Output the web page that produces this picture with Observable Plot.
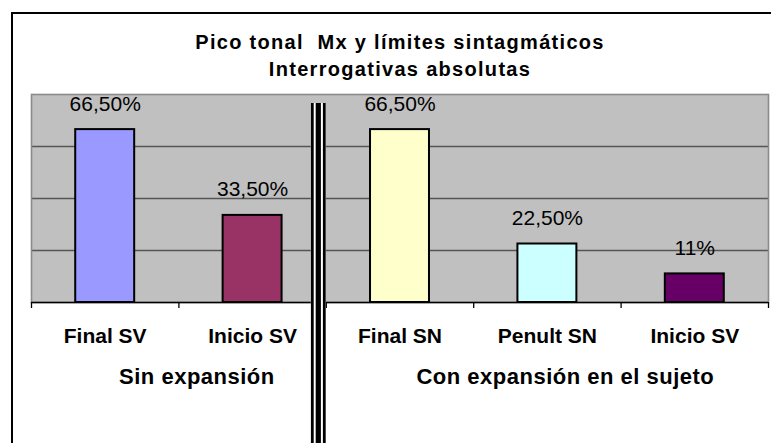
<!DOCTYPE html>
<html>
<head>
<meta charset="utf-8">
<script src="https://cdn.jsdelivr.net/npm/d3@7"></script>
<script src="https://cdn.jsdelivr.net/npm/@observablehq/plot@0.6"></script>
<style>
  html, body { margin: 0; padding: 0; background: #fff; }
  #wrap { position: relative; width: 771px; height: 443px; overflow: hidden; background: #fff; }
  #border { position: absolute; left: 11px; top: 12px; width: 900px; height: 900px;
            border-left: 2px solid #000; border-top: 2px solid #000; pointer-events: none; }
</style>
</head>
<body>
<div id="wrap"><div id="chart"></div><div id="border"></div></div>
<script>
// ---- data ----
const titleLines = ["Pico tonal  Mx y límites sintagmáticos", "Interrogativas absolutas"];
const categories = ["Final SV", "Inicio SV", "Final SN", "Penult SN", "Inicio SV"];
const values = [66.5, 33.5, 66.5, 22.5, 11];
const valueLabels = ["66,50%", "33,50%", "66,50%", "22,50%", "11%"];
const groupNames = ["Sin expansión", "Con expansión en el sujeto"];
const groupStart = [0, 2];
const groupEnd = [2, 5];
const gridValues = [20, 40, 60];

// ---- styles ----
const barColors = ["#9999FF", "#993366", "#FFFFCC", "#CCFFFF", "#660066"];

const rows = categories.map((c, i) => ({i, category: c, value: values[i], label: valueLabels[i]}));
const groups = groupNames.map((g, k) => ({name: g, mid: (groupStart[k] + groupEnd[k]) / 2}));
const boundaries = d3.range(categories.length + 1);
const sepAt = [groupEnd[0]];

const chart = Plot.plot({
  width: 771,
  height: 443,
  marginLeft: 31,
  marginRight: 3,
  marginTop: 94,
  marginBottom: 141,
  style: {fontFamily: "'Liberation Sans', Arial, sans-serif", background: "transparent", color: "#000"},
  x: {domain: [0, categories.length], axis: null, label: null},
  y: {domain: [0, 80], axis: null, label: null},
  marks: [
    Plot.frame({fill: "#C0C0C0", stroke: "none"}),
    Plot.ruleY(gridValues, {stroke: "#555555", strokeWidth: 1.6}),
    Plot.frame({stroke: "#8a8a8a", strokeWidth: 1.6}),
    Plot.ruleY([0], {stroke: "#000", strokeWidth: 1.6}),
    Plot.rectY(rows, {
      x1: d => d.i + 0.3, x2: d => d.i + 0.7, y1: 0, y2: "value",
      fill: d => barColors[d.i], stroke: "#000", strokeWidth: 2
    }),
    Plot.axisX({ticks: boundaries, tickSize: 6, tickFormat: () => "", label: null, stroke: "#000", strokeWidth: 1.3}),
    // triple separator line
    Plot.ruleX(sepAt, {dx: -8, insetTop: 9, insetBottom: -141, stroke: "#fff", strokeWidth: 15}),
    Plot.ruleX(sepAt, {dx: -14, insetTop: 9, insetBottom: -141, stroke: "#000", strokeWidth: 2.8}),
    Plot.ruleX(sepAt, {dx: -8, insetTop: 9, insetBottom: -141, stroke: "#000", strokeWidth: 5.2}),
    Plot.ruleX(sepAt, {dx: -2, insetTop: 9, insetBottom: -141, stroke: "#000", strokeWidth: 2.8}),
    // value labels
    Plot.text(rows, {x: d => d.i + 0.5, y: "value", text: "label", lineAnchor: "bottom", dy: -19,
      fontSize: 21, fill: "#000"}),
    // category labels
    Plot.text(rows, {x: d => d.i + 0.5, text: "category", frameAnchor: "bottom", lineAnchor: "bottom",
      dy: 40, fontSize: 21, fontWeight: "bold", fill: "#000"}),
    // group labels
    Plot.text(groups, {x: "mid", text: "name", frameAnchor: "bottom", lineAnchor: "bottom",
      dx: 18, dy: 81, fontSize: 22, fontWeight: "bold", fill: "#000"}),
    // title
    Plot.text([titleLines[0]], {frameAnchor: "top", lineAnchor: "bottom", dy: -46, fontSize: 20,
      fontWeight: "bold", fill: "#000"}),
    Plot.text([titleLines[1]], {frameAnchor: "top", lineAnchor: "bottom", dy: -19, fontSize: 20,
      fontWeight: "bold", fill: "#000"})
  ]
});

d3.select(chart).selectAll("text").each(function() {
  const t = this.textContent;
  if (titleLines.includes(t)) this.setAttribute("letter-spacing", "1.3px");
  else if (groupNames.includes(t)) this.setAttribute("letter-spacing", "0.5px");
});

document.getElementById("chart").appendChild(chart);
</script>
</body>
</html>
